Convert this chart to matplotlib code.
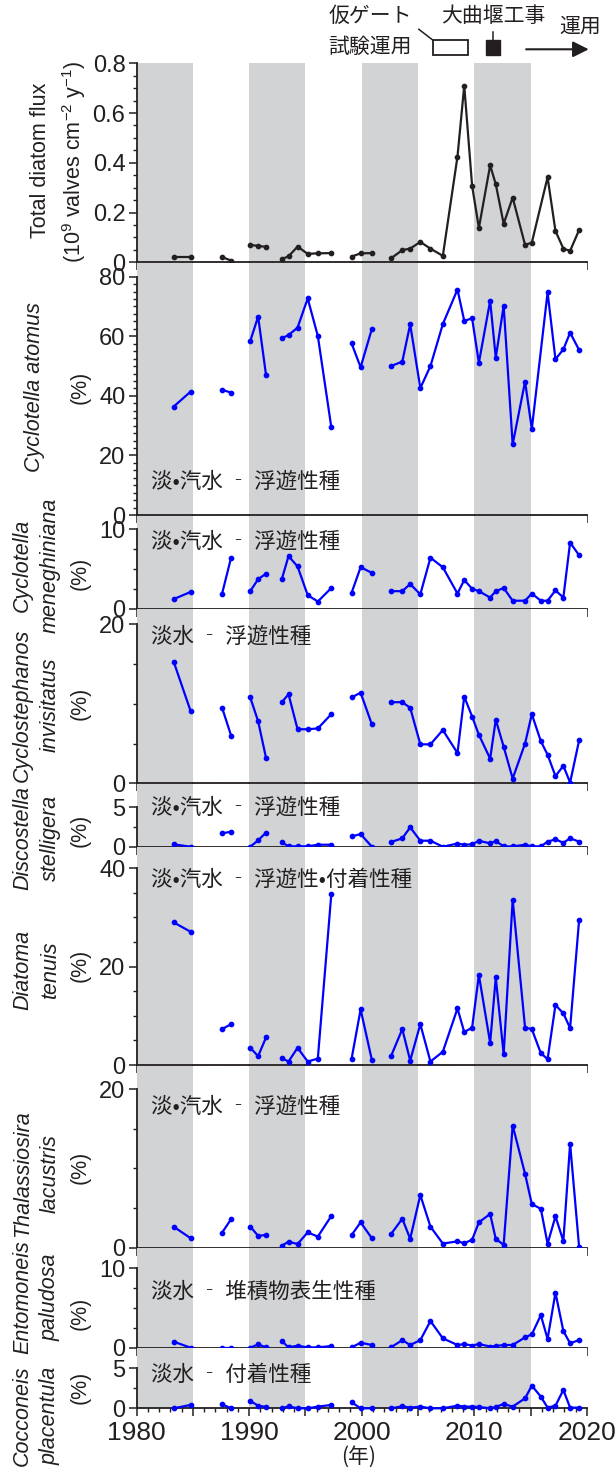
import numpy as np
import matplotlib
matplotlib.use('Agg')
import matplotlib.pyplot as plt
import matplotlib.transforms as mtransforms
from matplotlib.patches import Rectangle
from matplotlib.lines import Line2D
from matplotlib.ticker import MultipleLocator, FixedLocator, FuncFormatter

plt.rcParams['font.family'] = ['Liberation Sans', 'DejaVu Sans']
plt.rcParams['mathtext.fontset'] = 'custom'
plt.rcParams['mathtext.rm'] = 'Liberation Sans'
plt.rcParams['mathtext.it'] = 'Liberation Sans:italic'

JP = ['Noto Sans CJK JP', 'DejaVu Sans']
INK = '#231f20'
GRAY = '#d1d3d4'
BLUE = '#0000ff'

# sampling years of the core layers; runs of connected points
years = [1983.3, 1984.8,
         1987.6, 1988.4,
         1990.1, 1990.8, 1991.5,
         1992.9, 1993.5, 1994.3, 1995.2, 1996.1, 1997.3,
         1999.1, 1999.9, 2000.9,
         2002.6, 2003.6, 2004.3, 2005.2, 2006.1, 2007.2, 2008.5, 2009.1, 2009.8,
         2010.4, 2011.4, 2011.9, 2012.6, 2013.4, 2014.5, 2015.1, 2015.9, 2016.5,
         2017.2, 2017.9, 2018.5, 2019.3]
run_sizes = [2, 2, 3, 6, 3, 22]
nan = np.nan

flux = [0.020, 0.020, 0.021, 0.007, 0.070, 0.066, 0.062, 0.013, 0.024, 0.063, 0.034, 0.036, 0.037,
        0.023, 0.036, 0.037, 0.016, 0.049, 0.055, 0.082, 0.055, 0.026, 0.425, 0.710, 0.307,
        0.138, 0.390, 0.314, 0.155, 0.260, 0.070, 0.079, nan, 0.342, 0.126, 0.055, 0.046, 0.130]
c_atomus = [36.4, 41.4, 42.0, 41.1, 58.4, 66.6, 47.0, 59.3, 60.4, 62.9, 72.7, 60.1, 29.4,
            57.6, 49.6, 62.5, 50.0, 51.5, 64.0, 42.6, 50.0, 64.1, 75.7, 65.2, 66.0,
            51.1, 71.9, 52.8, 70.2, 23.7, 44.8, 28.9, nan, 74.7, 52.3, 55.6, 61.2, 55.4]
c_meneghiniana = [1.2, 2.1, 1.9, 6.4, 2.2, 3.7, 4.4, 3.7, 6.6, 5.3, 1.7, 0.9, 2.6,
                  2.0, 5.2, 4.5, 2.2, 2.2, 3.1, 1.8, 6.4, 5.2, 1.9, 3.6, 2.5,
                  2.2, 1.4, 2.2, 2.6, 1.0, 1.0, 1.9, 1.0, 1.0, 2.3, 1.4, 8.3, 6.7]
c_invisitatus = [15.3, 9.1, 9.5, 6.0, 10.8, 7.8, 3.2, 10.2, 11.2, 6.8, 6.8, 6.9, 8.7,
                 10.8, 11.4, 7.4, 10.2, 10.2, 9.5, 4.9, 4.9, 6.7, 3.8, 10.9, 8.4,
                 6.1, 3.1, 8.0, 4.6, 0.6, 5.0, 8.7, 5.3, 3.6, 0.9, 2.2, 0.1, 5.4]
d_stelligera = [0.3, 0.0, 1.7, 1.9, 0.0, 0.8, 1.8, 0.55, 0.05, 0.05, 0.05, 0.25, 0.25,
                1.3, 1.6, 0.0, 0.6, 1.06, 2.46, 0.76, 0.76, 0.0, 0.4, 0.25, 0.3,
                0.75, 0.42, 0.72, 0.04, 0.04, 0.25, 0.04, 0.04, 0.64, 0.93, 0.5, 1.06, 0.64]
d_tenuis = [29.0, 27.1, 7.3, 8.3, 3.5, 1.8, 5.6, 1.4, 0.7, 3.5, 0.7, 1.3, 34.8,
            1.3, 11.3, 1.0, 1.8, 7.3, 0.9, 8.3, 0.7, 2.7, 11.5, 6.7, 7.6,
            18.3, 4.5, 17.8, 2.2, 33.6, 7.6, 7.3, 2.4, 1.2, 12.2, 10.5, 7.5, 29.5]
t_lacustris = [2.65, 1.2, 1.9, 3.6, 2.65, 1.5, 1.6, 0.25, 0.76, 0.46, 1.93, 1.4, 4.0,
               1.6, 3.2, 1.18, 1.72, 3.65, 1.12, 6.64, 2.65, 0.52, 0.8, 0.57, 1.0,
               3.2, 4.25, 1.1, 0.37, 15.4, 9.3, 5.5, 4.9, 0.5, 3.95, 0.84, 13.1, 0.08]
e_paludosa = [0.76, 0.0, 0.0, 0.0, 0.0, 0.42, 0.04, 0.84, 0.04, 0.25, 0.04, 0.04, 0.21,
              0.04, 0.63, 0.34, 0.06, 0.95, 0.34, 0.95, 3.36, 1.18, 0.34, 0.46, 0.27,
              0.46, 0.15, 0.21, 0.34, 0.34, 1.3, 1.68, 4.1, 1.1, 6.93, 2.1, 0.55, 0.97]
c_placentula = [0.0, 0.42, 0.5, 0.0, 0.92, 0.33, 0.17, 0.0, 0.25, 0.0, 0.0, 0.21, 0.42,
                0.75, 0.0, 0.0, 0.0, 0.25, 0.08, 0.21, 0.0, 0.0, 0.33, 0.21, 0.21,
                0.17, 0.0, 0.17, 0.54, 0.21, 1.25, 2.83, 1.46, 0.08, 0.33, 2.29, 0.08, 0.08]

bands = [(1980, 1985), (1990, 1995), (2000, 2005), (2010, 2015)]

notes = ['', '淡•汽水 ‐ 浮遊性種', '淡•汽水 ‐ 浮遊性種', '淡水 ‐ 浮遊性種', '淡•汽水 ‐ 浮遊性種',
         '淡•汽水 ‐ 浮遊性•付着性種', '淡•汽水 ‐ 浮遊性種', '淡水 ‐ 堆積物表生性種', '淡水 ‐ 付着性種']
names = [None, ['Cyclotella atomus'], ['Cyclotella', 'meneghiniana'],
         ['Cyclostephanos', 'invisitatus'], ['Discostella', 'stelligera'],
         ['Diatoma', 'tenuis'], ['Thalassiosira', 'lacustris'],
         ['Entomoneis', 'paludosa'], ['Cocconeis', 'placentula']]
series = [flux, c_atomus, c_meneghiniana, c_invisitatus, d_stelligera,
          d_tenuis, t_lacustris, e_paludosa, c_placentula]

# layout in pixels: (zero line y, top tick y, top tick value, major, minor, note y, name y, pct y)
W, H = 615, 1472
layout = [
    (262.3, 63.3, 0.8, 0.2, 0.05, None, None, None),
    (515.0, 276.7, 80, 20, 2.5, 481.7, 387, 387),
    (608.7, 529.0, 10, 10, 2.5, 541.7, 565, 573),
    (783.3, 624.3, 20, 20, 5, 636.7, 705, 703),
    (846.7, 807.3, 5, 5, 2.5, 808.0, 838, 830),
    (1065.0, 868.3, 40, 20, 5, 880.0, 970, 965),
    (1247.7, 1089.0, 20, 20, 5, 1106.7, 1174, 1167),
    (1347.7, 1268.3, 10, 10, 2.5, 1291.7, 1297, 1313),
    (1408.3, 1368.3, 5, 5, 2.5, 1375.0, 1416, 1387),
]
X0, X1 = 136.5, 587.0

fig = plt.figure(figsize=(W / 100, H / 100), dpi=100)
yrs = np.array(years)
axes = []
prev = 63.3
for i, (vals, lay) in enumerate(zip(series, layout)):
    zero, toppx, topv, major, minor, note_y, name_y, pct_y = lay
    ax = fig.add_axes([X0 / W, 1 - zero / H, (X1 - X0) / W, (zero - prev) / H])
    ytop = topv * (zero - prev) / (zero - toppx)
    ax.set_xlim(1980, 2020)
    ax.set_ylim(0, ytop)
    for a, b in bands:
        ax.axvspan(a, b, color=GRAY, lw=0, zorder=0)
    v = np.array(vals, dtype=float)
    start = 0
    color = INK if i == 0 else BLUE
    for n in run_sizes:
        xs, ys = yrs[start:start + n], v[start:start + n]
        ok = ~np.isnan(ys)
        ax.plot(xs[ok], ys[ok], '-o', color=color, lw=1.6, ms=3.1, clip_on=False, zorder=3)
        start += n
    for s in ['top', 'right']:
        ax.spines[s].set_visible(False)
    ax.spines['left'].set_bounds(0, topv)
    for s in ['left', 'bottom']:
        ax.spines[s].set_linewidth(1.3)
        ax.spines[s].set_color(INK)
    ax.xaxis.set_major_locator(MultipleLocator(5))
    ax.xaxis.set_minor_locator(MultipleLocator(1))
    ax.xaxis.set_major_formatter(FuncFormatter(lambda x, _: f'{int(round(x))}' if round(x) % 10 == 0 else ''))
    ax.yaxis.set_major_locator(FixedLocator(np.arange(0, topv + 1e-9, major)))
    ax.yaxis.set_minor_locator(FixedLocator(np.arange(0, topv + 1e-9, minor)))
    ax.yaxis.set_major_formatter(FuncFormatter(lambda y, _: f'{y:g}'))
    ax.tick_params(axis='both', which='major', direction='out', length=6, width=1.1, color=INK,
                   labelcolor=INK, labelsize=17, pad=2)
    ax.tick_params(axis='both', which='minor', direction='out', length=3, width=1.0, color=INK)
    ax.tick_params(axis='x', labelbottom=(i == len(series) - 1), labelsize=19, pad=3)
    if notes[i]:
        ax.text((151 - X0) / (X1 - X0), 1 - (note_y - prev) / (zero - prev),
                notes[i], transform=ax.transAxes, ha='left', va='center', fontsize=15.5, family=JP,
                color=INK)
    if names[i]:
        if len(names[i]) == 1:
            fig.text(34.5 / W, 1 - name_y / H, names[i][0], rotation=90, ha='center', va='center',
                     fontsize=15.5, style='italic', color=INK)
        else:
            fig.text(22.5 / W, 1 - name_y / H, names[i][0], rotation=90, ha='center', va='center',
                     fontsize=15.5, style='italic', color=INK)
            fig.text(50.5 / W, 1 - name_y / H, names[i][1], rotation=90, ha='center', va='center',
                     fontsize=15.5, style='italic', color=INK)
        fig.text(80.5 / W, 1 - pct_y / H, '(%)', rotation=90, ha='center', va='center',
                 fontsize=15.5, color=INK)
    axes.append(ax)
    prev = zero + 0.5

# flux axis label
fig.text(40 / W, 1 - 160 / H, 'Total diatom flux', rotation=90, ha='center', va='center',
         fontsize=15.5, color=INK)
fig.text(74.5 / W, 1 - 162 / H, r'(10$^{9}$ valves cm$^{-2}$ y$^{-1}$)', rotation=90,
         ha='center', va='center', fontsize=15.5, color=INK)
fig.text(359 / W, 1 - 1457 / H, '(年)', ha='center', va='center', fontsize=15, family=JP, color=INK)

# header: gate trial / weir works / operation
ax0 = axes[0]
blend = mtransforms.blended_transform_factory(ax0.transData, fig.transFigure)
def fyy(py):
    return 1 - py / H
ax0.add_patch(Rectangle((2006.3, fyy(55)), 3.1, 15 / H, transform=blend, facecolor='white',
                        edgecolor=INK, lw=1.3, clip_on=False))
ax0.add_patch(Rectangle((2011.0, fyy(55)), 1.3, 15 / H, transform=blend, facecolor=INK,
                        edgecolor=INK, lw=1.0, clip_on=False))
fig.add_artist(Line2D([2005.07, 2006.3], [fyy(29.3), fyy(40)], transform=blend, color=INK, lw=1.1))
fig.add_artist(Line2D([2011.65, 2011.65], [fyy(31.7), fyy(40)], transform=blend, color=INK, lw=1.1))
ax0.annotate('', xy=(2020.4, fyy(49.3)), xycoords=blend, xytext=(2014.35, fyy(49.3)), textcoords=blend,
             arrowprops=dict(arrowstyle='-|>', color=INK, lw=1.5, mutation_scale=24),
             annotation_clip=False)
fig.text(328.6 / W, fyy(15.7), '仮ゲート', ha='left', va='center', fontsize=15, family=JP, color=INK)
fig.text(328.6 / W, fyy(46.7), '試験運用', ha='left', va='center', fontsize=15, family=JP, color=INK)
fig.text(441 / W, fyy(15.7), '大曲堰工事', ha='left', va='center', fontsize=15, family=JP, color=INK)
fig.text(558.8 / W, fyy(26.7), '運用', ha='left', va='center', fontsize=15, family=JP, color=INK)

fig.savefig('out.png', dpi=100)
